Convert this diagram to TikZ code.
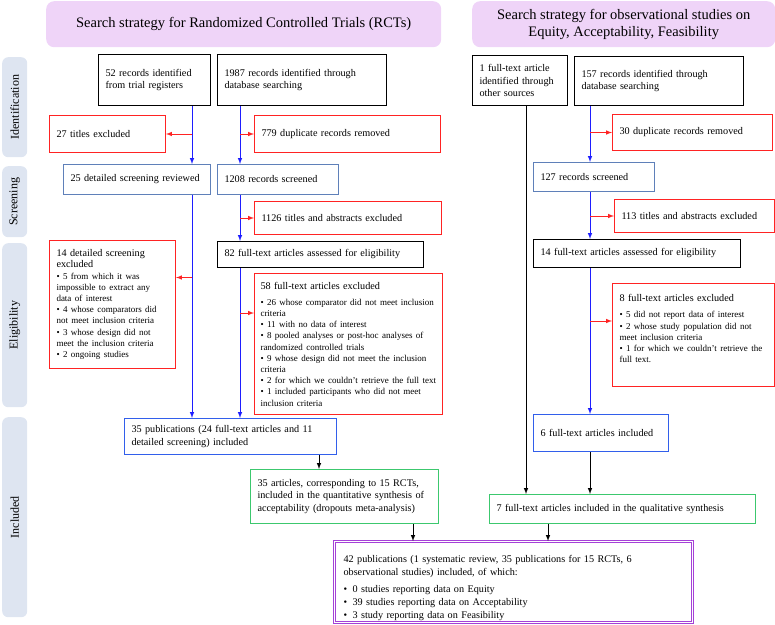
\documentclass[tikz,border=0pt]{standalone}
\usepackage{fontspec}
\setmainfont{Liberation Serif}
\usepackage{graphicx}
\usepackage{xcolor}
\usetikzlibrary{arrows}

\definecolor{lilac}{RGB}{239,212,248}
\definecolor{bandblue}{RGB}{222,229,241}
\definecolor{boxred}{RGB}{255,35,35}
\definecolor{flowblue}{RGB}{30,30,255}
\definecolor{greyblue}{RGB}{95,128,185}
\definecolor{boxblue}{RGB}{50,95,235}
\definecolor{boxgreen}{RGB}{60,200,110}
\definecolor{boxpurple}{RGB}{165,65,215}

\newcommand{\smalltext}{\fontsize{9}{11.2}\selectfont}

\begin{document}
\begin{tikzpicture}[x=1pt,y=-1pt,
	every node/.style={font=\fontsize{10.2}{12.6}\selectfont},
	box/.style={draw, line width=1pt, anchor=north west, inner xsep=7pt, inner ysep=2pt, align=left},
	blackbox/.style={box, draw=black},
	redbox/.style={box, draw=boxred},
	greybox/.style={box, draw=greyblue},
	bluebox/.style={box, draw=boxblue},
	greenbox/.style={box, draw=boxgreen},
	header/.style={fill=lilac, rounded corners=8pt, anchor=north west, align=center, font=\fontsize{14.5}{17}\selectfont},
	band/.style={fill=bandblue, rounded corners=6pt, anchor=north west, minimum width=25, inner sep=0pt, font=\fontsize{12}{14}\selectfont},
	blueflow/.style={-{latex[scale=1.2]}, draw=flowblue, line width=1pt},
	redflow/.style={-{latex[scale=1.2]}, draw=boxred, line width=1pt},
	blackflow/.style={-{latex[scale=1.2]}, draw=black, line width=1pt}]

	\useasboundingbox (0,0) rectangle (775,624);

	% headers
	\node[header, minimum width=395, minimum height=46] (hdrRCT) at (46,1)
		{Search strategy for Randomized Controlled Trials (RCTs)};
	\node[header, minimum width=303, minimum height=46] (hdrObs) at (472,1)
		{Search strategy for observational studies on\\ Equity, Acceptability, Feasibility};

	% stage bands
	\node[band, minimum height=100] (bandId) at (2,57) {\rotatebox{90}{Identification}};
	\node[band, minimum height=71] (bandScr) at (2,166) {\rotatebox{90}{Screening}};
	\node[band, minimum height=164] (bandElig) at (2,243) {\rotatebox{90}{Eligibility}};
	\node[band, minimum height=200] (bandIncl) at (2,417) {\rotatebox{90}{Included}};

	% RCT column
	\node[blackbox, minimum width=112, minimum height=51, text width=98] (reg52) at (98,54)
		{52 records identified\\ from trial registers};
	\node[blackbox, minimum width=169, minimum height=51, text width=155] (db1987) at (217,54)
		{1987 records identified through\\ database searching};
	\node[redbox, minimum width=116, minimum height=37, text width=102] (excl27) at (49,115)
		{27 titles excluded};
	\node[redbox, minimum width=186, minimum height=37, text width=172] (dup779) at (254,115)
		{779 duplicate records removed};
	\node[greybox, minimum width=147, minimum height=30, text width=133] (scr25) at (63,164)
		{25 detailed screening reviewed};
	\node[greybox, minimum width=121, minimum height=30, text width=107] (scr1208) at (217,164)
		{1208 records screened};
	\node[redbox, minimum width=187, minimum height=33, text width=173] (excl1126) at (254,201)
		{1126 titles and abstracts excluded};
	\node[blackbox, minimum width=206, minimum height=26, text width=192] (elig82) at (217,241)
		{82 full-text articles assessed for eligibility};
	\node[redbox, minimum width=126, minimum height=128, text width=112] (excl14) at (49,240)
		{\fontsize{10.2}{11.4}\selectfont 14 detailed screening\\ excluded\par
		{\smalltext \textbullet\ 5 from which it was\\ impossible to extract any\\ data of interest\\
		\textbullet\ 4 whose comparators did\\ not meet inclusion criteria\\
		\textbullet\ 3 whose design did not\\ meet the inclusion criteria\\
		\textbullet\ 2 ongoing studies\par}};
	\node[redbox, minimum width=188, minimum height=141, text width=176, inner xsep=6pt] (excl58) at (254,273)
		{58 full-text articles excluded\par\vspace{5pt}
		{\smalltext \textbullet\ 26 whose comparator did not meet inclusion\\ criteria\\
		\textbullet\ 11 with no data of interest\\
		\textbullet\ 8 pooled analyses or post-hoc analyses of\\ randomized controlled trials\\
		\textbullet\ 9 whose design did not meet the inclusion\\ criteria\\
		\textbullet\ 2 for which we couldn’t retrieve the full text\\
		\textbullet\ 1 included participants who did not meet\\ inclusion criteria\par}};
	\node[bluebox, minimum width=212, minimum height=36, text width=198] (incl35) at (124,418)
		{35 publications (24 full-text articles and 11\\ detailed screening) included};
	\node[greenbox, minimum width=188, minimum height=54, text width=174] (quant35) at (250,469)
		{35 articles, corresponding to 15 RCTs,\\ included in the quantitative synthesis of\\ acceptability (dropouts meta-analysis)};

	% observational column
	\node[blackbox, minimum width=95, minimum height=50, text width=81] (other1) at (472,55)
		{1 full-text article\\ identified through\\ other sources};
	\node[blackbox, minimum width=169, minimum height=49, text width=155] (db157) at (574,56)
		{157 records identified through\\ database searching};
	\node[redbox, minimum width=160, minimum height=36, text width=146] (dup30) at (612,114)
		{30 duplicate records removed};
	\node[greybox, minimum width=121, minimum height=29, text width=107] (scr127) at (533,162)
		{127 records screened};
	\node[redbox, minimum width=160, minimum height=33, text width=146] (excl113) at (614,199)
		{113 titles and abstracts excluded};
	\node[blackbox, minimum width=207, minimum height=28, text width=193] (elig14) at (533,239)
		{14 full-text articles assessed for eligibility};
	\node[redbox, minimum width=162, minimum height=103, text width=148] (excl8) at (612,283)
		{8 full-text articles excluded\par\vspace{5pt}
		{\smalltext \textbullet\ 5 did not report data of interest\\
		\textbullet\ 2 whose study population did not\\ meet inclusion criteria\\
		\textbullet\ 1 for which we couldn’t retrieve the\\ full text.\par}\rule{0pt}{10pt}};
	\node[bluebox, minimum width=135, minimum height=37, text width=121] (incl6) at (533,414)
		{6 full-text articles included};
	\node[greenbox, minimum width=266, minimum height=29, text width=252] (qual7) at (489,494)
		{7 full-text articles included in the qualitative synthesis};

	% final box
	\node[box, draw=boxpurple, line width=1.1pt, double=white, double distance=1.6pt,
		minimum width=358, minimum height=81, text width=340, inner xsep=9pt] (final) at (334,541)
		{\rule{0pt}{19pt}42 publications (1 systematic review, 35 publications for 15 RCTs, 6\\
		observational studies) included, of which:\par\vspace{5pt}
		\makebox[9pt][l]{\textbullet}0 studies reporting data on Equity\\
		\makebox[9pt][l]{\textbullet}39 studies reporting data on Acceptability\\
		\makebox[9pt][l]{\textbullet}3 study reporting data on Feasibility};

	% flow lines
	\coordinate (colA) at (192,0);
	\coordinate (colB) at (240,0);
	\coordinate (colC) at (526,0);
	\coordinate (colD) at (590,0);
	\coordinate (colE) at (319,0);
	\coordinate (colF) at (413,0);
	\coordinate (colG) at (548,0);
	\coordinate (in14) at ([yshift=27pt]excl14.east);
	\coordinate (in58) at ([yshift=31pt]excl58.west);
	\coordinate (in8) at ([yshift=14pt]excl8.west);

	\draw[blueflow] (reg52.south -| colA) -- (scr25.north -| colA);
	\draw[blueflow] (scr25.south -| colA) -- (incl35.north -| colA);
	\draw[blueflow] (db1987.south -| colB) -- (scr1208.north -| colB);
	\draw[blueflow] (scr1208.south -| colB) -- (elig82.north -| colB);
	\draw[blueflow] (elig82.south -| colB) -- (incl35.north -| colB);
	\draw[redflow] (excl27.east -| colA) -- (excl27.east);
	\draw[redflow] (in14 -| colA) -- (in14);
	\draw[redflow] (dup779.west -| colB) -- (dup779.west);
	\draw[redflow] (excl1126.west -| colB) -- (excl1126.west);
	\draw[redflow] (in58 -| colB) -- (in58);
	\draw[blackflow] (incl35.south -| colE) -- (quant35.north -| colE);

	\draw[blackflow] (other1.south -| colC) -- (qual7.north -| colC);
	\draw[blueflow] (db157.south -| colD) -- (scr127.north -| colD);
	\draw[blueflow] (scr127.south -| colD) -- (elig14.north -| colD);
	\draw[blueflow] (elig14.south -| colD) -- (incl6.north -| colD);
	\draw[redflow] (dup30.west -| colD) -- (dup30.west);
	\draw[redflow] (excl113.west -| colD) -- (excl113.west);
	\draw[redflow] (in8 -| colD) -- (in8);
	\draw[blackflow] (incl6.south -| colD) -- (qual7.north -| colD);

	\draw[blackflow] (quant35.south -| colF) -- (final.north -| colF);
	\draw[blackflow] (qual7.south -| colG) -- (final.north -| colG);
\end{tikzpicture}
\end{document}
